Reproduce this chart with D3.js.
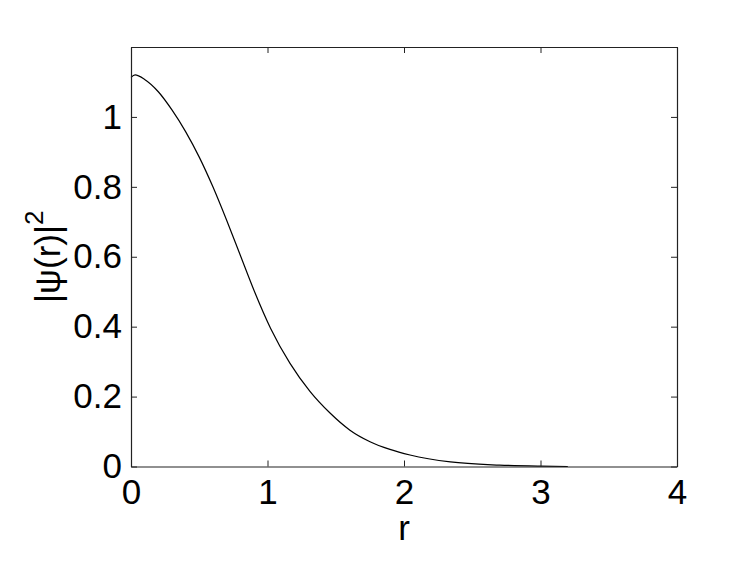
<!DOCTYPE html>
<html>
<head>
<meta charset="utf-8">
<script src="https://cdn.jsdelivr.net/npm/d3@7"></script>
<style>
  body { margin: 0; background: #fff; }
  text { font-family: "Liberation Sans", Arial, Helvetica, sans-serif; }
</style>
</head>
<body>
<div id="chart"></div>
<script>
// values
const rVals = [0.0, 0.03, 0.1, 0.2, 0.3, 0.4, 0.5, 0.6, 0.7, 0.8, 0.9, 1.023,
  1.165, 1.311, 1.458, 1.604, 1.751, 1.897, 2.044, 2.34, 2.7, 3.0, 3.2];
const psi2Vals = [1.113, 1.12, 1.107, 1.072, 1.02, 0.958, 0.885, 0.8, 0.705, 0.605, 0.505, 0.395,
  0.295, 0.215, 0.153, 0.104, 0.071, 0.049, 0.033, 0.013, 0.004, 0.001, 0.0];
const xTicks = [0, 1, 2, 3, 4];
const yTicks = [0, 0.2, 0.4, 0.6, 0.8, 1];

const width = 747, height = 562;
const margin = { top: 47, right: 70, bottom: 95.5, left: 131 };

const data = rVals.map((r, i) => ({ r: r, v: psi2Vals[i] }));

const x = d3.scaleLinear().domain([0, 4]).range([margin.left, width - margin.right]);
const y = d3.scaleLinear().domain([0, 1.2]).range([height - margin.bottom, margin.top]);

const svg = d3.select("#chart").append("svg")
  .attr("width", width)
  .attr("height", height);

// curve
const line = d3.line()
  .x(d => x(d.r))
  .y(d => y(d.v))
  .curve(d3.curveMonotoneX);

svg.append("path")
  .datum(data)
  .attr("fill", "none")
  .attr("stroke", "#000")
  .attr("stroke-width", 1.2)
  .attr("d", line);

// axes, ticks pointing inward on all four sides
const tick = -6;
const styleAxis = g => {
  g.selectAll(".domain").attr("stroke", "#222").attr("stroke-width", 1.2);
  g.selectAll(".tick line").attr("stroke", "#222");
  g.selectAll("text").attr("fill", "#000").style("font-size", "35px")
    .style("font-family", "'Liberation Sans', Arial, sans-serif");
};

svg.append("g")
  .attr("transform", "translate(0," + y(0) + ")")
  .call(d3.axisBottom(x).tickValues(xTicks).tickFormat(d3.format("d"))
    .tickSizeInner(tick).tickSizeOuter(0).tickPadding(13))
  .call(styleAxis);

svg.append("g")
  .attr("transform", "translate(0," + y(1.2) + ")")
  .call(d3.axisTop(x).tickValues(xTicks).tickFormat("")
    .tickSizeInner(tick).tickSizeOuter(0))
  .call(styleAxis);

svg.append("g")
  .attr("transform", "translate(" + x(0) + ",0)")
  .call(d3.axisLeft(y).tickValues(yTicks).tickFormat(d => d === 0 || d === 1 ? d : d3.format(".1f")(d))
    .tickSizeInner(tick).tickSizeOuter(0).tickPadding(9))
  .call(styleAxis);

svg.append("g")
  .attr("transform", "translate(" + x(4) + ",0)")
  .call(d3.axisRight(y).tickValues(yTicks).tickFormat("")
    .tickSizeInner(tick).tickSizeOuter(0))
  .call(styleAxis);

// x label
svg.append("text")
  .attr("x", (x(0) + x(4)) / 2)
  .attr("y", 540)
  .attr("text-anchor", "middle")
  .style("font-size", "35px")
  .text("r");

// y label
const yl = svg.append("text")
  .attr("transform", "translate(60," + (y(0) + y(1.2)) / 2 + ") rotate(-90)")
  .attr("text-anchor", "middle")
  .style("font-size", "35px");
yl.append("tspan").text("|ψ(r)|");
yl.append("tspan").attr("dy", -17).style("font-size", "26px").text("2");
</script>
</body>
</html>
